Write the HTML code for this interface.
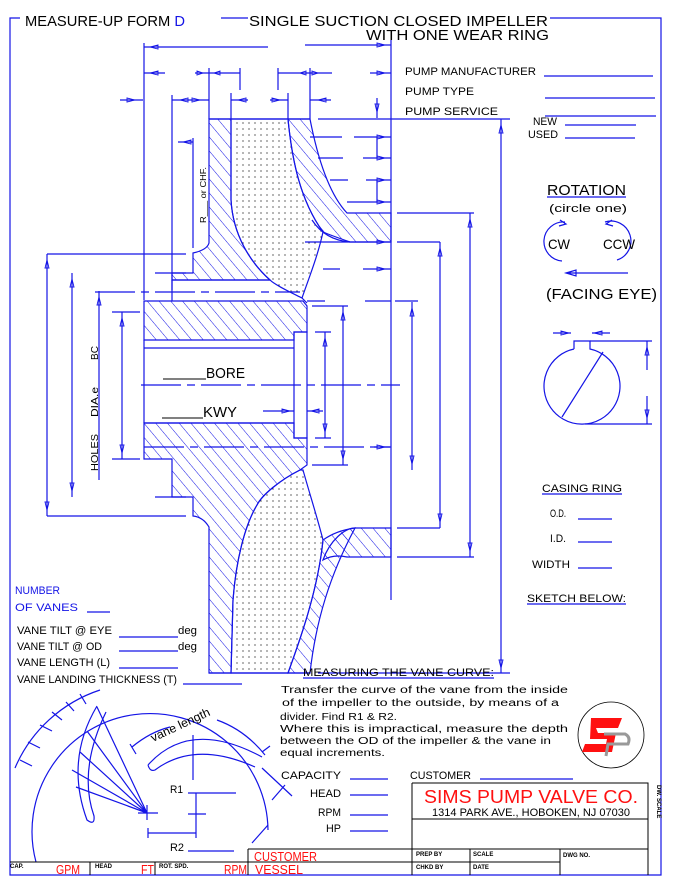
<!DOCTYPE html>
<html><head><meta charset="utf-8"><style>
html,body{margin:0;padding:0;background:#fff;}
svg{display:block;}
text{font-family:"Liberation Sans",sans-serif;fill:#000;}
.b{fill:#1414e6;}
.r{fill:#ff1010;}
</style></head><body>
<svg width="675" height="890" viewBox="0 0 675 890" xmlns="http://www.w3.org/2000/svg">
<defs>
<pattern id="h" width="9" height="9" patternUnits="userSpaceOnUse" patternTransform="rotate(-40)">
<line x1="0" y1="0" x2="0" y2="9" stroke="#1414e6" stroke-width="1"/></pattern>
<pattern id="d" width="6" height="6" patternUnits="userSpaceOnUse">
<circle cx="3" cy="3" r="0.6" fill="#000"/></pattern>
</defs>
<g fill="none" stroke="#1414e6" stroke-width="1.2">
<path d="M10,30 V18 H20 M221,18 H248 M550,18 H661 V875 H10 V18"/>
<path fill="url(#h)" d="M209,119 L231,119 L231,200 C233,235 250,262 270,280 L172,280 L172,273 L193,273 L193,253 Q207,250 209,243 Z"/>
<path fill="url(#d)" d="M231,119 L288,119 C292,160 300,200 323,232 C318,255 310,275 302,298 C290,292 275,285 270,280 C250,262 233,235 231,200 Z"/>
<path fill="url(#h)" d="M288,119 L310,119 C318,160 330,195 347,213 L391,213 L391,242 L350,242 C330,235 323,232 323,232 C300,200 292,160 288,119 Z"/>
<path d="M312,220 Q325,240 350,242"/>
<path fill="url(#h)" d="M144,301 L303,301 L307,306 L307,332 L294,332 L294,340 L144,340 Z"/>
<path d="M172,280 V301 M172,280 H270 M302,298 L307,303"/>
<path d="M144,340 V423 M144,348 H294 M144,423 H294"/>
<rect x="294" y="332" width="13" height="106"/>
<path fill="url(#h)" d="M144,423 L294,423 L294,438 L307,438 L307,465 L300,470 C280,480 262,495 257,505 C245,525 236,560 233,600 L231,673 L209,673 L209,527 Q203,517 193,516 L193,497 L172,497 L172,459 L144,459 Z"/>
<path fill="url(#d)" d="M300,470 L303,470 C310,495 318,520 323,540 C318,590 300,640 288,673 L231,673 L233,600 C236,560 245,525 257,505 C262,495 280,480 300,470 Z"/>
<path fill="url(#h)" d="M288,673 L310,673 C316,620 330,575 355,528 C340,530 330,535 323,540 C318,590 300,640 288,673 Z"/>
<path fill="url(#h)" d="M323,560 C330,540 345,528 355,528 L391,528 L391,557 L347,557 C338,555 330,556 323,560 Z"/>
<path d="M209,119 H310 M209,673 H310"/>
<path d="M391,40 V600 M318,119 H510 M318,673 H510 M501,119 V673 M397,213 H474 M397,242 H440 M397,528 H440 M397,557 H474 M470,213 V557 M440,242 V528"/>
<path stroke-dasharray="40,6,8,6" d="M141,385 H400 M95,292 H300 M144,447 H390"/>
<path d="M307,301 H325 M365,301 H391 M395,301 H418 M312,306 H348 M312,465 H348 M343,306 V465 M315,332 H331 M315,438 H331 M325,332 V438 M412,302 V470 M263,411 H294 M307,411 H323 M374,447 H391"/>
<path d="M310,137 H342 M354,137 H391 M318,158 H343 M363,158 H391 M330,180 H348 M366,180 H391 M347,202 H391 M377,137 V158 M377,180 V202 M323,269 H340 M363,269 H391 M305,242 H391"/>
<path d="M144,43 V300 M144,47 H268 M305,45 H391 M144,73 H165 M195,73 H240 M278,73 H332 M370,73 H391 M209,68 V119 M310,68 V119 M240,68 V90 M278,68 V90 M120,100 H143 M172,100 H209 M231,100 H248 M270,100 H288 M310,100 H331 M172,95 V290 M231,93 V119 M288,93 V119 M377,98 V118 M193,138 V248 M178,142 H193 M186,254 H47 M186,516 H47"/>
<path d="M47,254 V516 M72,273 V497 M155,273 H186 M155,497 H186 M99,291 V480 M122,312 V459 M112,312 H140 M112,459 H140"/>
<!-- arrowheads (small hollow) -->
<g stroke-width="0.9">
<path d="M150,47 l8,-2 v4 z M385,45 l-8,-2 v4 z M150,73 l8,-2 v4 z M385,73 l-8,-2 v4 z M203,73 l-6,-2 v4 z M214,73 l6,-2 v4 z M300,73 l6,-2 v4 z M318,73 l-6,-2 v4 z M135,100 l-8,-2 v4 z M180,100 l8,-2 v4 z M200,100 l-8,-2 v4 z M238,100 l8,-2 v4 z M280,100 l-8,-2 v4 z M318,100 l8,-2 v4 z M377,112 l-2,-8 h4 z M385,137 l-8,-2 v4 z M385,158 l-8,-2 v4 z M385,180 l-8,-2 v4 z M385,202 l-8,-2 v4 z M385,269 l-8,-2 v4 z M385,242 l-8,-2 v4 z M501,125 l-2,8 h4 z M501,668 l-2,-8 h4 z M470,219 l-2,8 h4 z M470,551 l-2,-8 h4 z M440,248 l-2,8 h4 z M440,522 l-2,-8 h4 z M412,308 l-2,8 h4 z M412,464 l-2,-8 h4 z M343,312 l-2,8 h4 z M343,459 l-2,-8 h4 z M325,338 l-2,8 h4 z M325,432 l-2,-8 h4 z M47,260 l-2,8 h4 z M47,510 l-2,-8 h4 z M72,279 l-2,8 h4 z M72,491 l-2,-8 h4 z M99,297 l-2,8 h4 z M122,318 l-2,8 h4 z M122,453 l-2,-8 h4 z M290,411 l-8,-2 v4 z M311,411 l8,-2 v4 z M385,447 l-8,-2 v4 z M647,347 l-2,8 h4 z M647,418 l-2,-8 h4 z M569,333 l-8,-2 v4 z M594,333 l8,-2 v4 z M183,142 l8,-2 v4 z"/>
</g>
<path d="M544,76 H653 M545,98 H655 M545,116 H656 M565,125 H636 M565,138 H635"/>
<path d="M547,197 H626"/>
<path d="M565,222 A19,19 0 1 0 562,261 M605,222 A19,19 0 1 1 617,260"/>
<path d="M560,220 L566,224 L559,226 M612,220 L606,224 L613,226"/>
<path d="M566,273 H628 M566,273 L576,270 V276 Z"/>
<path d="M574,349 V341 H590 V349 A38,38 0 1 1 574,349"/>
<path d="M562,417 L603,352 M590,341 H652 M585,424 H652 M647,341 V370 M647,396 V424 M553,333 H571 M592,333 H610"/>
<path d="M542,494 H622 M578,519 H612 M578,542 H612 M578,568 H612 M527,604 H626"/>
<path d="M87,612 H110 M119,637 H178 M119,651 H178 M119,668 H178 M183,684 H242"/>
<path d="M303,678 H494"/>
<path d="M36,862 A118,118 0 1 1 268,830"/>
<path d="M15,768 A140,140 0 0 1 100,690"/>
<path d="M20,760 l12,6 M28,742 l12,6 M40,725 l12,6 M52,712 l10,8 M66,702 l8,9 M80,694 l6,10"/>
<path d="M132,747 Q150,732 170,727 M217,720 Q245,730 265,755 M130,744 l6,10 M262,752 l8,-6"/>
<path d="M148,765 Q190,718 262,757 M148,765 Q150,772 155,770 Q195,740 255,767"/>
<path d="M97,706 Q65,760 87,820 Q95,826 94,816 Q78,770 106,712"/>
<path d="M147,813 L97,707 M147,813 L87,731 M147,813 L80,752 M147,813 L72,770 M147,813 L76,787 M138,813 H158 M147,805 V820"/>
<path d="M193,735 V780 M188,793 H236 M196,793 V838 M188,814 H206 M148,833 H196 M148,828 V838 M188,851 H234"/>
<path d="M262,768 L292,796 M272,800 L285,785 M252,843 L268,825"/>
<path d="M350,779 H388 M350,795 H388 M350,815 H388 M350,831 H388 M480,779 H573"/>
<ellipse cx="611" cy="735" rx="33" ry="33" stroke="#000" stroke-width="0.8"/>
</g>
<g fill="none" stroke="#000" stroke-width="1">
<path d="M412,783 H648 V875 M412,783 V875 M412,819 H648 M248,849 H648 M10,862 H560 M248,849 V875 M90,862 V875 M155,862 V875 M470,849 V875 M560,849 V875"/>
</g>
<path d="M591,718 H622 L618,728 H596 L598,733 H616 L612,752 H582 L585,744 H606 L607,739 H590 Z" fill="#ff1010"/>
<path d="M604,734 H625 Q631,737 628,744 H608 L606,756" fill="none" stroke="#999" stroke-width="3"/>
<g font-size="15">
<text x="25" y="26" textLength="160" lengthAdjust="spacingAndGlyphs">MEASURE-UP FORM <tspan class="b">D</tspan></text>
<text x="249" y="26" textLength="299" lengthAdjust="spacingAndGlyphs">SINGLE SUCTION CLOSED IMPELLER</text>
<text x="366" y="40" textLength="183" lengthAdjust="spacingAndGlyphs">WITH ONE WEAR RING</text>
</g>
<g font-size="11">
<text x="405" y="75" textLength="131" lengthAdjust="spacingAndGlyphs">PUMP MANUFACTURER</text>
<text x="405" y="95" textLength="69" lengthAdjust="spacingAndGlyphs">PUMP TYPE</text>
<text x="405" y="115" textLength="93" lengthAdjust="spacingAndGlyphs">PUMP SERVICE</text>
<text x="533" y="125" textLength="24" lengthAdjust="spacingAndGlyphs">NEW</text>
<text x="528" y="138" textLength="30" lengthAdjust="spacingAndGlyphs">USED</text>
<text x="549" y="212" textLength="78" lengthAdjust="spacingAndGlyphs">(circle one)</text>
<text x="542" y="492" textLength="80" lengthAdjust="spacingAndGlyphs">CASING RING</text>
<text x="550" y="517" textLength="16" lengthAdjust="spacingAndGlyphs">O.D.</text>
<text x="550" y="542" textLength="16" lengthAdjust="spacingAndGlyphs">I.D.</text>
<text x="532" y="568" textLength="38" lengthAdjust="spacingAndGlyphs">WIDTH</text>
<text x="527" y="602" textLength="99" lengthAdjust="spacingAndGlyphs">SKETCH BELOW:</text>
<text class="b" x="15" y="594" textLength="45" lengthAdjust="spacingAndGlyphs">NUMBER</text>
<text class="b" x="15" y="611" textLength="63" lengthAdjust="spacingAndGlyphs">OF VANES</text>
<text x="17" y="634" textLength="95" lengthAdjust="spacingAndGlyphs">VANE TILT @ EYE</text>
<text x="178" y="634" textLength="19" lengthAdjust="spacingAndGlyphs">deg</text>
<text x="17" y="650" textLength="85" lengthAdjust="spacingAndGlyphs">VANE TILT @ OD</text>
<text x="178" y="650" textLength="19" lengthAdjust="spacingAndGlyphs">deg</text>
<text x="17" y="666" textLength="93" lengthAdjust="spacingAndGlyphs">VANE LENGTH (L)</text>
<text x="17" y="683" textLength="160" lengthAdjust="spacingAndGlyphs">VANE LANDING THICKNESS (T)</text>
<text x="303" y="676" textLength="191" lengthAdjust="spacingAndGlyphs">MEASURING THE VANE CURVE:</text>
<text x="170" y="793" textLength="13" lengthAdjust="spacingAndGlyphs">R1</text>
<text x="170" y="851" textLength="14" lengthAdjust="spacingAndGlyphs">R2</text>
<text x="281" y="779" textLength="60" lengthAdjust="spacingAndGlyphs">CAPACITY</text>
<text x="310" y="797" textLength="31" lengthAdjust="spacingAndGlyphs">HEAD</text>
<text x="318" y="816" textLength="23" lengthAdjust="spacingAndGlyphs">RPM</text>
<text x="326" y="832" textLength="15" lengthAdjust="spacingAndGlyphs">HP</text>
<text x="410" y="779" textLength="61" lengthAdjust="spacingAndGlyphs">CUSTOMER</text>
<text x="432" y="816" textLength="198" lengthAdjust="spacingAndGlyphs">1314 PARK AVE., HOBOKEN, NJ 07030</text>
</g>
<text x="547" y="195" font-size="15" textLength="79" lengthAdjust="spacingAndGlyphs">ROTATION</text>
<text x="548" y="249" font-size="14" textLength="22" lengthAdjust="spacingAndGlyphs">CW</text>
<text x="603" y="249" font-size="14" textLength="32" lengthAdjust="spacingAndGlyphs">CCW</text>
<text x="546" y="299" font-size="15" textLength="111" lengthAdjust="spacingAndGlyphs">(FACING EYE)</text>
<text x="206" y="378" font-size="15" textLength="39" lengthAdjust="spacingAndGlyphs">BORE</text>
<text x="203" y="417" font-size="15" textLength="34" lengthAdjust="spacingAndGlyphs">KWY</text>
<path d="M163,379 H206 M162,418 H203" stroke="#000" stroke-width="1"/>
<g font-size="10">
<text transform="translate(98,471) rotate(-90)" textLength="37" lengthAdjust="spacingAndGlyphs">HOLES</text>
<text transform="translate(98,417) rotate(-90)" textLength="30" lengthAdjust="spacingAndGlyphs">DIA.e</text>
<text transform="translate(98,360) rotate(-90)" textLength="14" lengthAdjust="spacingAndGlyphs">BC</text>
<text transform="translate(206,223) rotate(-90)" font-size="8" textLength="56" lengthAdjust="spacingAndGlyphs">R___ or CHF.</text>
<text transform="translate(153,742) rotate(-25)" font-size="12" textLength="64" lengthAdjust="spacingAndGlyphs">vane length</text>
</g>
<g font-size="10">
<text x="281" y="693" textLength="287" lengthAdjust="spacingAndGlyphs">Transfer the curve of the vane from the inside</text>
<text x="282" y="706" textLength="277" lengthAdjust="spacingAndGlyphs">of the impeller to the outside, by means of a</text>
<text x="280" y="720" textLength="117" lengthAdjust="spacingAndGlyphs">divider. Find R1 &amp; R2.</text>
<text x="280" y="732" textLength="288" lengthAdjust="spacingAndGlyphs">Where this is impractical, measure the depth</text>
<text x="280" y="744" textLength="271" lengthAdjust="spacingAndGlyphs">between the OD of the impeller &amp; the vane in</text>
<text x="280" y="756" textLength="105" lengthAdjust="spacingAndGlyphs">equal increments.</text>
</g>
<text class="r" x="424" y="803" font-size="18" textLength="214" lengthAdjust="spacingAndGlyphs">SIMS PUMP VALVE CO.</text>
<g font-size="13">
<text class="r" x="56" y="874" textLength="24" lengthAdjust="spacingAndGlyphs">GPM</text>
<text class="r" x="141" y="874" textLength="13" lengthAdjust="spacingAndGlyphs">FT</text>
<text class="r" x="224" y="874" textLength="23" lengthAdjust="spacingAndGlyphs">RPM</text>
<text class="r" x="254" y="861" textLength="63" lengthAdjust="spacingAndGlyphs">CUSTOMER</text>
<text class="r" x="255" y="874" textLength="48" lengthAdjust="spacingAndGlyphs">VESSEL</text>
</g>
<g font-size="6" font-weight="bold">
<text x="10" y="868">CAP.</text>
<text x="95" y="868">HEAD</text>
<text x="159" y="868">ROT. SPD.</text>
<text x="416" y="856">PREP BY</text>
<text x="416" y="869">CHKD BY</text>
<text x="473" y="856">SCALE</text>
<text x="473" y="869">DATE</text>
<text x="563" y="857">DWG NO.</text>
<text transform="translate(657,785) rotate(90)">DW. SCALE</text>
</g>
</svg>
</body></html>
